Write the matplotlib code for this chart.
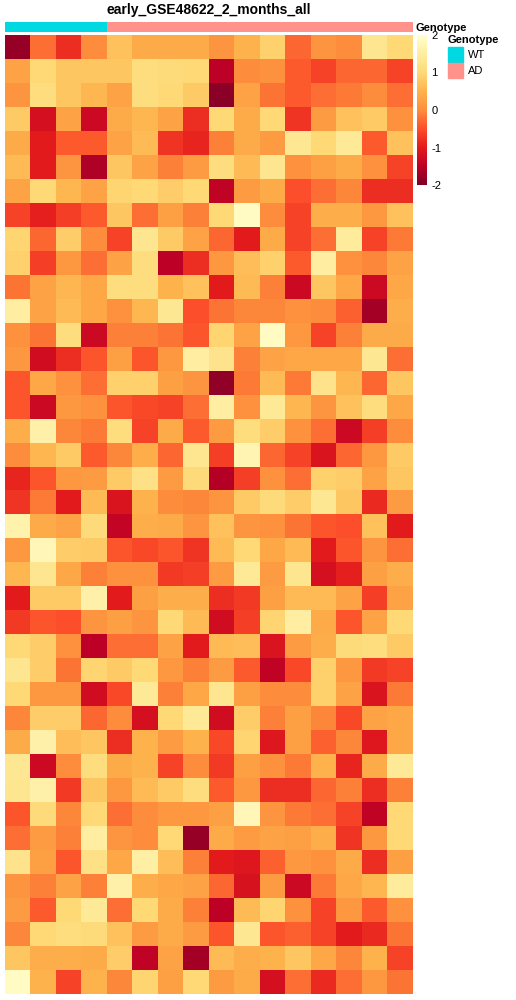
import numpy as np
import matplotlib.pyplot as plt
from matplotlib.colors import ListedColormap
from matplotlib.patches import Rectangle

plt.rcParams['font.family'] = ['Liberation Sans', 'DejaVu Sans']
plt.rcParams['axes.unicode_minus'] = False

title = 'early_GSE48622_2_months_all'

# sample annotation (columns)
genotype = ['WT'] * 4 + ['AD'] * 12
geno_colors = {'WT': '#00D9E1', 'AD': '#FF928A'}

# scaled expression, 40 genes x 16 samples
expr = [
    [-1.8, -0.25, -0.8, 0.0, 0.7, 0.4, 0.4, 0.4, 0.1, 0.5, 0.9, -0.3, 0.1, 0.0, 1.3, 1.0],
    [0.3, 1.0, 0.75, 0.75, 0.75, 1.1, 1.05, 1.0, -1.5, 0.0, 0.05, -0.4, -0.6, -0.3, -0.3, -0.6],
    [0.1, 1.1, 0.75, 0.55, 0.3, 1.1, 1.0, 0.8, -1.9, 0.3, -0.2, -0.4, -0.25, -0.15, 0.0, -0.25],
    [0.8, -1.2, 0.3, -1.3, 0.4, 0.55, 0.3, -0.8, 1.0, 0.4, 1.0, -0.75, 0.2, 0.7, 0.8, 0.05],
    [0.4, -1.0, -0.4, -0.4, 0.3, 0.6, -0.75, -0.9, -0.1, 0.4, 0.2, 1.35, 1.0, 1.4, -0.4, 0.7],
    [0.6, -1.0, 0.1, -1.6, 0.75, 0.3, -0.1, 0.2, 1.1, 0.6, 1.3, 0.05, 0.25, 0.4, 0.05, -0.6],
    [0.3, 1.0, 0.55, 0.3, 0.95, 1.0, 0.85, 1.0, -1.45, 0.2, 0.4, -0.5, -0.25, -0.05, -0.8, -0.8],
    [-0.6, -0.95, -0.65, -0.4, 0.75, -0.25, 0.25, -0.1, 1.0, 1.9, 0.0, -0.6, 0.45, 0.45, 0.15, 0.7],
    [0.95, -0.3, 0.85, 0.0, -0.6, 1.3, 0.8, 0.3, -0.3, -1.0, 0.4, -0.6, -0.25, 1.45, -0.6, -0.15],
    [0.9, -0.65, 0.15, -0.25, 0.3, 1.1, -1.5, -0.8, 0.15, 0.65, 0.9, -0.4, 1.5, 0.05, -0.05, 0.3],
    [-0.2, 0.3, 0.55, 0.35, 1.1, 1.1, 0.5, 0.7, -1.0, 0.6, -0.1, -1.3, 0.75, 0.35, -1.3, 0.35],
    [1.5, 0.3, 0.6, 0.35, 0.05, 0.55, 1.35, -0.5, -0.2, -0.05, -0.05, 0.05, 0.0, -0.35, -1.7, 0.45],
    [0.05, -0.2, 1.1, -1.3, -0.1, -0.1, -0.2, -0.45, 0.95, 0.3, 1.9, 0.15, -0.6, -0.1, 0.4, 0.4],
    [0.15, -1.25, -0.8, -0.45, 0.25, -0.45, 0.15, 1.5, 1.25, -0.1, 0.3, 0.35, 0.35, 0.35, 1.35, -0.25],
    [-0.45, 0.35, 0.05, -0.25, 0.9, 0.9, 0.25, 0.1, -1.85, -0.15, 0.6, -0.15, 1.25, 0.55, -0.3, 0.75],
    [-0.45, -1.3, 0.15, 0.05, -0.45, -0.55, -0.6, -0.25, 1.5, 0.05, 1.4, 0.55, 0.1, 0.7, 1.1, 0.35],
    [0.45, 1.6, -0.05, -0.15, 1.1, -0.6, 0.4, -0.4, 0.2, 1.1, 0.85, 0.05, -0.25, -1.3, -0.65, 0.0],
    [0.0, 0.55, 0.8, -0.4, -0.05, 0.45, -0.3, 1.3, -0.65, 1.7, -0.3, -0.6, -1.1, -0.3, 0.15, 0.8],
    [-0.9, -0.45, 0.15, 0.2, 0.8, 1.2, 0.2, 1.05, -1.55, -0.65, 0.05, -0.25, 0.9, 0.85, 0.3, 0.75],
    [-0.75, -0.15, -1.0, 0.6, -1.1, 0.5, 0.0, -0.05, 0.1, 0.8, 1.05, 0.85, 1.35, 0.75, -0.85, 0.2],
    [1.65, 0.4, 0.3, 1.05, -1.4, 0.45, 0.4, 0.1, 0.7, 0.1, 0.05, -0.2, -0.45, -0.5, 0.7, -1.0],
    [0.15, 1.75, 0.85, 0.8, -0.45, -0.55, -0.45, -0.75, 0.6, 1.0, 0.35, 0.6, -1.0, -0.45, 0.1, -0.25],
    [0.55, 1.3, 0.35, -0.1, 0.05, 0.05, -0.7, -0.65, 0.2, 1.4, 0.2, 1.3, -1.2, -0.95, 0.25, 0.45],
    [-1.0, 0.8, 0.8, 1.6, -1.0, 0.25, 0.45, 0.45, -0.8, -0.7, 0.25, 0.6, 0.6, 0.3, -0.65, 0.3],
    [-0.7, -0.45, -0.5, 0.1, 0.25, 0.1, 1.0, 0.6, -1.25, -0.65, 0.95, 1.5, 0.4, -0.45, 0.3, 1.0],
    [1.0, 0.85, 0.05, -1.5, -0.25, -0.25, 0.3, -1.0, 0.6, 0.65, -1.1, 0.2, 0.45, 1.05, 1.1, 0.8],
    [1.3, 0.85, -0.2, 0.95, 0.8, 1.0, 0.15, -0.1, 0.2, -0.4, -1.45, -0.55, 0.9, 0.15, -0.7, -0.6],
    [1.0, 0.15, 0.15, -1.25, -0.55, 1.4, -0.1, 0.35, 1.3, 0.25, 0.0, 0.0, 0.9, 0.3, -1.1, -0.15],
    [-0.05, 0.85, 0.85, -0.3, 0.0, -1.2, 1.0, 1.4, -1.25, 0.85, -0.1, 0.25, -0.05, -0.55, 0.3, 0.35],
    [0.4, 1.6, 0.65, 0.75, -0.8, 0.5, 0.2, 0.5, -0.55, 0.95, -1.05, 0.25, -0.35, -0.05, -1.05, 0.35],
    [1.35, -1.3, 0.0, 1.1, 0.4, 0.5, -0.6, 0.0, -0.7, 0.25, 0.05, -0.15, 0.5, -0.9, 0.4, 1.4],
    [1.3, 1.6, -0.7, 0.75, 0.15, 0.6, 0.8, 1.1, -0.4, 0.15, -0.8, -0.8, -0.3, -0.1, -0.8, -0.1],
    [-0.45, 1.05, -0.05, 1.0, -0.25, 0.0, 0.15, 0.15, 0.25, 1.75, 0.1, -0.15, -0.25, -0.6, -1.45, 1.0],
    [-0.25, 0.2, -0.1, 1.5, 0.1, 0.0, 1.0, -1.8, 0.4, 0.2, 0.3, 0.25, 0.45, -0.75, 0.15, 1.0],
    [1.25, 0.25, -0.45, 1.2, 0.35, 1.55, 0.65, -0.1, -1.0, -1.05, -0.35, 0.15, 0.05, 0.4, -0.8, 0.25],
    [0.1, -0.1, 0.3, -0.1, 1.6, 0.45, 0.35, 0.3, -0.3, -1.15, 0.2, -1.3, -0.15, 0.35, 0.55, 1.45],
    [0.2, -0.4, 1.0, 1.4, -0.25, 1.0, 0.4, -0.1, -1.5, 0.6, 0.95, 0.05, -0.6, 0.15, -0.4, 0.05],
    [-0.05, 1.0, 1.1, 1.05, 0.7, 0.2, 0.4, 0.2, -0.45, 1.35, -0.45, -0.35, -0.6, -1.0, -0.85, -0.2],
    [0.75, 0.45, 0.45, 0.4, 0.85, -1.45, 0.3, -1.7, 0.6, 0.45, 0.5, 0.75, 0.35, -0.05, 0.5, -0.6],
    [1.9, 0.5, -0.6, 0.5, -0.05, 0.95, 0.25, 1.0, 0.2, 0.4, -1.2, -0.25, -0.85, -0.25, 0.15, -0.2],
]

data = np.array(expr)
W, H = 516, 1000
fig = plt.figure(figsize=(W / 100, H / 100), dpi=100)

def px_axes(x0, y0, x1, y1):
    return fig.add_axes([x0 / W, 1 - y1 / H, (x1 - x0) / W, (y1 - y0) / H])

# main heatmap
ax = px_axes(5, 35, 413, 994)
hm = ax.imshow(data, cmap='YlOrRd_r', vmin=-2, vmax=2, aspect='auto', interpolation='nearest')
ax.axis('off')

# column annotation bar
ann = px_axes(5, 22, 413, 32)
cols = [geno_colors[g] for g in genotype]
ann.imshow(np.arange(len(genotype))[None, :], cmap=ListedColormap(cols), aspect='auto', interpolation='nearest')
ann.axis('off')
fig.text(415 / W, 1 - 28 / H, 'Genotype', fontsize=8, fontweight='bold', va='center', ha='left')

fig.text(209 / W, 1 - 10 / H, title, fontsize=10, fontweight='bold', ha='center', va='center')

# colour key
cax = px_axes(417, 35, 427, 185)
cb = fig.colorbar(hm, cax=cax, ticks=[-2, -1, 0, 1, 2])
cb.outline.set_visible(False)
cb.ax.tick_params(length=0, labelsize=8, pad=3)

# genotype legend
fig.text(448 / W, 1 - 40 / H, 'Genotype', fontsize=8, fontweight='bold', va='center', ha='left')
for i, g in enumerate(['WT', 'AD']):
    y0 = 47 + i * 16
    fig.patches.append(Rectangle((448 / W, 1 - (y0 + 15) / H), 15 / W, 15 / H,
                                 transform=fig.transFigure, color=geno_colors[g]))
    fig.text(468 / W, 1 - (y0 + 8) / H, g, fontsize=8, va='center', ha='left')

plt.savefig('out.png', dpi=100)
